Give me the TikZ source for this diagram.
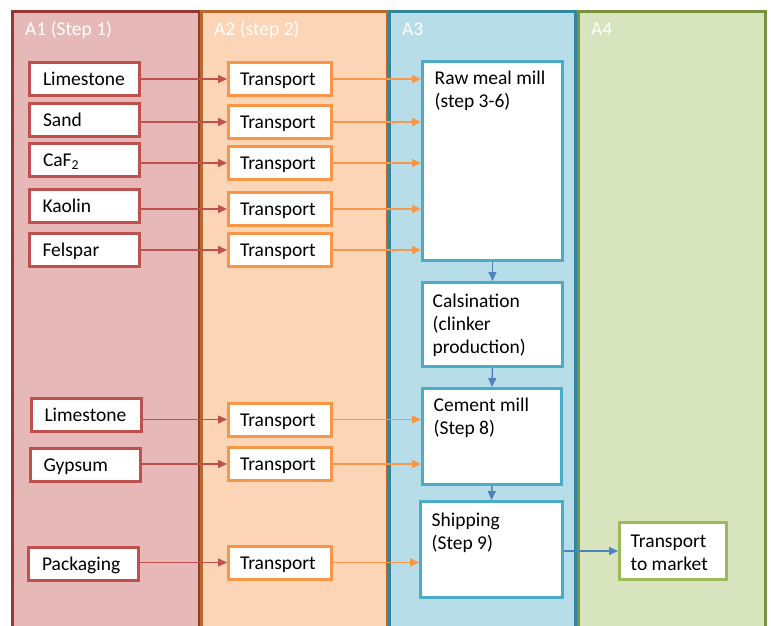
\documentclass[tikz,border=0pt]{standalone}
\usepackage{fontspec}
\setmainfont{Carlito}
\usetikzlibrary{arrows.meta,calc,positioning}
\definecolor{laneA}{HTML}{E6B9B8}
\definecolor{laneAd}{HTML}{953735}
\definecolor{laneB}{HTML}{FBD5B5}
\definecolor{laneBd}{HTML}{B76A2C}
\definecolor{laneC}{HTML}{B7DDE8}
\definecolor{laneCd}{HTML}{31859C}
\definecolor{laneD}{HTML}{D7E4BD}
\definecolor{laneDd}{HTML}{77933C}
\definecolor{boxred}{HTML}{C0504D}
\definecolor{boxor}{HTML}{F79646}
\definecolor{boxblue}{HTML}{4BACC6}
\definecolor{boxgr}{HTML}{9BBB59}
\definecolor{arrblue}{HTML}{4F81BD}

\begin{document}
\begin{tikzpicture}[x=1pt,y=-1pt,
	every node/.style={font=\fontsize{19.5}{23}\selectfont},
	lane/.style={line width=3pt},
	lab/.style={text=white, anchor=base west, inner sep=0pt},
	txt/.style={anchor=base west, inner sep=0pt, align=left},
	box/.style={draw, line width=3pt, fill=white},
	redbox/.style={box, draw=boxred, text width=83pt, inner xsep=13.5pt,
		inner ysep=0pt, minimum height=33pt, text height=16pt, text depth=3pt},
	orbox/.style={box, draw=boxor, text width=80pt, inner xsep=11.5pt,
		inner ysep=0pt, minimum height=33pt, text height=16pt, text depth=3pt},
	bluebox/.style={box, draw=boxblue},
	grbox/.style={box, draw=boxgr},
	redarr/.style={draw=boxred, line width=1.5pt, -{Triangle[length=9pt,width=8pt]}},
	orarr/.style={draw=boxor, line width=1.5pt, -{Triangle[length=9pt,width=8pt]}},
	bluearr/.style={draw=arrblue, line width=1.5pt, -{Triangle[length=9pt,width=8pt]}}]
	\useasboundingbox (0,0) rectangle (771,625);
	\clip (0,0) rectangle (771,625);
	\draw [lane, draw=laneAd, fill=laneA] (12.5,11.5) rectangle (199.5,640);
	\draw [lane, draw=laneBd, fill=laneB] (201,11.5) rectangle (387.5,640);
	\draw [lane, draw=laneCd, fill=laneC] (389.5,11.5) rectangle (575,640);
	\draw [lane, draw=laneDd, fill=laneD] (578.5,11.5) rectangle (765.5,640);
	\node [lab] (a1) at (25,35) {A1 (Step 1)};
	\node [lab] (a2) at (214,35) {A2 (step 2)};
	\node [lab] (a3) at (402,35) {A3};
	\node [lab] (a4) at (591,35) {A4};
	\node [redbox] (lime) at (84.5,79) {Limestone};
	\node [redbox] (sand) at (84.5,119.5) {Sand};
	\node [redbox] (caf) at (84.5,160) {CaF\textsubscript{2}};
	\node [redbox] (kao) at (84,205.5) {Kaolin};
	\node [redbox] (fel) at (84,250) {Felspar};
	\node [redbox] (lime2) at (86,415) {Limestone};
	\node [redbox] (gyp) at (85,465) {Gypsum};
	\node [redbox] (pack) at (83.5,563.5) {Packaging};
	\node [orbox] (t1) at (280,79) {Transport};
	\node [orbox] (t2) at (280,122) {Transport};
	\node [orbox] (t3) at (280,163) {Transport};
	\node [orbox] (t4) at (280,209) {Transport};
	\node [orbox] (t5) at (280,250) {Transport};
	\node [orbox] (t6) at (280,419.5) {Transport};
	\node [orbox] (t7) at (280,464) {Transport};
	\node [orbox] (t8) at (280,562.5) {Transport};
	\node [bluebox, minimum width=140pt, minimum height=199pt] (mill) at (492.5,161) {};
	\node [bluebox, minimum width=140pt, minimum height=84pt] (cal) at (492.5,324.5) {};
	\node [bluebox, minimum width=139pt, minimum height=96pt] (cem) at (492,436.5) {};
	\node [bluebox, minimum width=142pt, minimum height=96pt] (ship) at (491.5,549.5) {};
	\node [grbox, minimum width=107pt, minimum height=57pt] (mkt) at (673,551) {};
	\node [txt] (millt) at ($(mill.north west)+(13.5,47.5)$) {Raw meal mill\\(step 3-6)};
	\node [txt] (calt) at ($(cal.north west)+(11.5,72.5)$) {Calsination\\(clinker\\production)};
	\node [txt] (cemt) at ($(cem.north west)+(12.5,47.5)$) {Cement mill\\(Step 8)};
	\node [txt] (shipt) at ($(ship.north west)+(12.5,49.5)$) {Shipping\\(Step 9)};
	\node [txt] (mktt) at ($(mkt.north west)+(12.5,49)$) {Transport\\to market};
	\draw [redarr] (lime.east |- t1.west) -- (t1.west);
	\draw [redarr] (sand.east |- t2.west) -- (t2.west);
	\draw [redarr] (caf.east |- t3.west) -- (t3.west);
	\draw [redarr] (kao.east |- t4.west) -- (t4.west);
	\draw [redarr] (fel.east |- t5.west) -- (t5.west);
	\draw [redarr] (lime2.east |- t6.west) -- (t6.west);
	\draw [redarr] (gyp.east |- t7.west) -- (t7.west);
	\draw [redarr] (pack.east |- t8.west) -- (t8.west);
	\draw [orarr] (t1.east) -- (t1.east -| mill.west);
	\draw [orarr] (t2.east) -- (t2.east -| mill.west);
	\draw [orarr] (t3.east) -- (t3.east -| mill.west);
	\draw [orarr] (t4.east) -- (t4.east -| mill.west);
	\draw [orarr] (t5.east) -- (t5.east -| mill.west);
	\draw [orarr] (t6.east) -- (t6.east -| cem.west);
	\draw [orarr] (t7.east) -- (t7.east -| cem.west);
	\draw [orarr] (t8.east) -- (t8.east -| ship.west);
	\draw [bluearr] (mill.south) -- (cal.north);
	\draw [bluearr] (cal.south) -- (cem.north);
	\draw [bluearr] (cem.south) -- (ship.north);
	\draw [bluearr] (ship.east |- mkt.west) -- (mkt.west);
\end{tikzpicture}
\end{document}
